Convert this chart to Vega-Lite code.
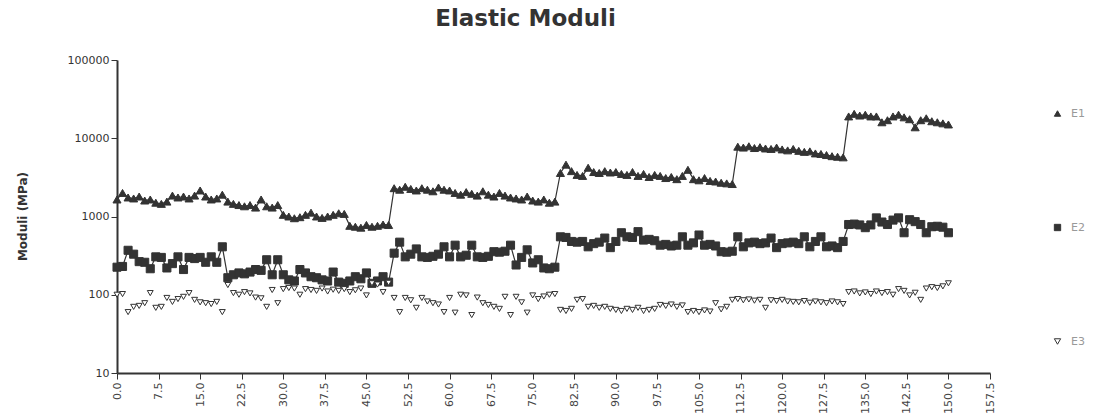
{
  "$schema": "https://vega.github.io/schema/vega-lite/v6.json",
  "width": 873,
  "height": 313,
  "autosize": {"type": "none"},
  "padding": {"left": 117, "top": 60, "right": 104, "bottom": 47},
  "background": "white",
  "title": {"text": "Elastic Moduli", "fontSize": 23, "font": "DejaVu Sans", "fontWeight": "bold", "anchor": "middle", "dx": -28, "offset": 23, "color": "#333"},
  "config": {"view": {"stroke": null}},
  "data": {"values": [
    {"x":0,"E1":1650,"E2":225,"E3":100},{"x":1,"E1":2000,"E2":230,"E3":102},{"x":2,"E1":1750,"E2":370,"E3":60},{"x":3,"E1":1700,"E2":330,"E3":70},{"x":4,"E1":1800,"E2":265,"E3":72},
    {"x":5,"E1":1600,"E2":260,"E3":78},{"x":6,"E1":1650,"E2":215,"E3":105},{"x":7,"E1":1500,"E2":305,"E3":68},{"x":8,"E1":1450,"E2":300,"E3":70},{"x":9,"E1":1550,"E2":220,"E3":91},
    {"x":10,"E1":1850,"E2":250,"E3":81},{"x":11,"E1":1750,"E2":305,"E3":88},{"x":12,"E1":1800,"E2":210,"E3":94},{"x":13,"E1":1700,"E2":300,"E3":105},{"x":14,"E1":1850,"E2":290,"E3":86},
    {"x":15,"E1":2150,"E2":300,"E3":80},{"x":16,"E1":1800,"E2":260,"E3":78},{"x":17,"E1":1650,"E2":305,"E3":76},{"x":18,"E1":1700,"E2":260,"E3":81},{"x":19,"E1":1900,"E2":410,"E3":60},
    {"x":20,"E1":1550,"E2":165,"E3":133},{"x":21,"E1":1450,"E2":180,"E3":105},{"x":22,"E1":1400,"E2":190,"E3":100},{"x":23,"E1":1350,"E2":185,"E3":108},{"x":24,"E1":1400,"E2":195,"E3":104},
    {"x":25,"E1":1300,"E2":210,"E3":92},{"x":26,"E1":1650,"E2":205,"E3":90},{"x":27,"E1":1350,"E2":280,"E3":70},{"x":28,"E1":1300,"E2":180,"E3":115},{"x":29,"E1":1400,"E2":280,"E3":78},
    {"x":30,"E1":1050,"E2":180,"E3":118},{"x":31,"E1":1000,"E2":155,"E3":122},{"x":32,"E1":950,"E2":150,"E3":120},{"x":33,"E1":980,"E2":210,"E3":100},{"x":34,"E1":1050,"E2":190,"E3":118},
    {"x":35,"E1":1120,"E2":170,"E3":115},{"x":36,"E1":1000,"E2":165,"E3":112},{"x":37,"E1":960,"E2":155,"E3":120},{"x":38,"E1":1000,"E2":150,"E3":110},{"x":39,"E1":1050,"E2":195,"E3":116},
    {"x":40,"E1":1100,"E2":145,"E3":112},{"x":41,"E1":1080,"E2":140,"E3":118},{"x":42,"E1":760,"E2":150,"E3":108},{"x":43,"E1":740,"E2":170,"E3":114},{"x":44,"E1":720,"E2":160,"E3":120},
    {"x":45,"E1":780,"E2":190,"E3":98},{"x":46,"E1":740,"E2":140,"E3":140},{"x":47,"E1":760,"E2":150,"E3":135},{"x":48,"E1":790,"E2":170,"E3":108},{"x":49,"E1":780,"E2":145,"E3":142},
    {"x":50,"E1":2300,"E2":340,"E3":91},{"x":51,"E1":2200,"E2":470,"E3":60},{"x":52,"E1":2400,"E2":305,"E3":91},{"x":53,"E1":2250,"E2":330,"E3":85},{"x":54,"E1":2150,"E2":385,"E3":68},
    {"x":55,"E1":2300,"E2":305,"E3":91},{"x":56,"E1":2200,"E2":300,"E3":82},{"x":57,"E1":2100,"E2":310,"E3":78},{"x":58,"E1":2350,"E2":330,"E3":75},{"x":59,"E1":2200,"E2":410,"E3":60},
    {"x":60,"E1":2150,"E2":305,"E3":91},{"x":61,"E1":2000,"E2":430,"E3":59},{"x":62,"E1":1900,"E2":305,"E3":100},{"x":63,"E1":2050,"E2":320,"E3":98},{"x":64,"E1":1950,"E2":430,"E3":55},
    {"x":65,"E1":1850,"E2":305,"E3":92},{"x":66,"E1":2100,"E2":300,"E3":78},{"x":67,"E1":1900,"E2":310,"E3":74},{"x":68,"E1":1800,"E2":355,"E3":70},{"x":69,"E1":2000,"E2":350,"E3":66},
    {"x":70,"E1":1850,"E2":360,"E3":94},{"x":71,"E1":1750,"E2":430,"E3":55},{"x":72,"E1":1700,"E2":240,"E3":94},{"x":73,"E1":1650,"E2":300,"E3":80},{"x":74,"E1":1800,"E2":375,"E3":59},
    {"x":75,"E1":1600,"E2":255,"E3":98},{"x":76,"E1":1550,"E2":280,"E3":88},{"x":77,"E1":1650,"E2":220,"E3":95},{"x":78,"E1":1500,"E2":215,"E3":100},{"x":79,"E1":1550,"E2":225,"E3":102},
    {"x":80,"E1":3600,"E2":550,"E3":64},{"x":81,"E1":4600,"E2":540,"E3":62},{"x":82,"E1":3800,"E2":480,"E3":66},{"x":83,"E1":3400,"E2":470,"E3":86},{"x":84,"E1":3300,"E2":480,"E3":88},
    {"x":85,"E1":4200,"E2":410,"E3":70},{"x":86,"E1":3700,"E2":450,"E3":72},{"x":87,"E1":3600,"E2":470,"E3":68},{"x":88,"E1":3800,"E2":530,"E3":70},{"x":89,"E1":3650,"E2":400,"E3":66},
    {"x":90,"E1":3700,"E2":480,"E3":64},{"x":91,"E1":3500,"E2":620,"E3":62},{"x":92,"E1":3400,"E2":550,"E3":66},{"x":93,"E1":3700,"E2":540,"E3":64},{"x":94,"E1":3300,"E2":640,"E3":68},
    {"x":95,"E1":3500,"E2":500,"E3":62},{"x":96,"E1":3200,"E2":510,"E3":64},{"x":97,"E1":3400,"E2":490,"E3":66},{"x":98,"E1":3300,"E2":430,"E3":74},{"x":99,"E1":3100,"E2":440,"E3":72},
    {"x":100,"E1":3200,"E2":420,"E3":75},{"x":101,"E1":3000,"E2":430,"E3":70},{"x":102,"E1":3300,"E2":550,"E3":73},{"x":103,"E1":3950,"E2":430,"E3":60},{"x":104,"E1":3000,"E2":460,"E3":62},
    {"x":105,"E1":2900,"E2":580,"E3":60},{"x":106,"E1":3100,"E2":430,"E3":63},{"x":107,"E1":2850,"E2":440,"E3":61},{"x":108,"E1":2800,"E2":420,"E3":78},{"x":109,"E1":2700,"E2":355,"E3":65},
    {"x":110,"E1":2650,"E2":350,"E3":70},{"x":111,"E1":2600,"E2":360,"E3":86},{"x":112,"E1":7800,"E2":550,"E3":88},{"x":113,"E1":7600,"E2":410,"E3":85},{"x":114,"E1":7900,"E2":460,"E3":87},
    {"x":115,"E1":7500,"E2":470,"E3":84},{"x":116,"E1":7700,"E2":450,"E3":86},{"x":117,"E1":7400,"E2":460,"E3":68},{"x":118,"E1":7300,"E2":530,"E3":85},{"x":119,"E1":7600,"E2":400,"E3":83},
    {"x":120,"E1":7200,"E2":450,"E3":86},{"x":121,"E1":7000,"E2":460,"E3":82},{"x":122,"E1":7300,"E2":470,"E3":81},{"x":123,"E1":6900,"E2":450,"E3":80},{"x":124,"E1":6700,"E2":550,"E3":83},
    {"x":125,"E1":6800,"E2":410,"E3":79},{"x":126,"E1":6400,"E2":480,"E3":82},{"x":127,"E1":6300,"E2":550,"E3":80},{"x":128,"E1":6100,"E2":410,"E3":78},{"x":129,"E1":5900,"E2":420,"E3":82},
    {"x":130,"E1":5800,"E2":400,"E3":80},{"x":131,"E1":5700,"E2":480,"E3":76},{"x":132,"E1":19000,"E2":790,"E3":108},{"x":133,"E1":20500,"E2":800,"E3":110},{"x":134,"E1":19500,"E2":780,"E3":104},
    {"x":135,"E1":20000,"E2":720,"E3":107},{"x":136,"E1":19000,"E2":780,"E3":102},{"x":137,"E1":19000,"E2":960,"E3":110},{"x":138,"E1":16000,"E2":850,"E3":105},{"x":139,"E1":17000,"E2":790,"E3":108},
    {"x":140,"E1":19000,"E2":900,"E3":100},{"x":141,"E1":20000,"E2":960,"E3":118},{"x":142,"E1":18500,"E2":620,"E3":112},{"x":143,"E1":17500,"E2":910,"E3":98},{"x":144,"E1":13800,"E2":860,"E3":106},
    {"x":145,"E1":17000,"E2":790,"E3":86},{"x":146,"E1":18000,"E2":620,"E3":120},{"x":147,"E1":16500,"E2":740,"E3":125},{"x":148,"E1":16000,"E2":750,"E3":122},{"x":149,"E1":15500,"E2":730,"E3":128},
    {"x":150,"E1":15000,"E2":620,"E3":140}
  ]},
  "transform": [{"fold": ["E1", "E2", "E3"], "as": ["series", "value"]}],
  "encoding": {
    "x": {"field": "x", "type": "quantitative",
      "scale": {"domain": [0, 157.5], "nice": false, "zero": false},
      "axis": {"title": null, "values": [0,7.5,15,22.5,30,37.5,45,52.5,60,67.5,75,82.5,90,97.5,105,112.5,120,127.5,135,142.5,150,157.5],
        "format": ".1f", "labelAngle": 270, "labelFont": "DejaVu Sans", "labelFontSize": 11, "labelColor": "#444",
        "domainColor": "#333", "domainWidth": 2, "tickColor": "#333", "tickSize": 6, "grid": false, "labelPadding": 3, "labelFlush": false, "labelOverlap": false}},
    "y": {"field": "value", "type": "quantitative",
      "scale": {"type": "log", "domain": [10, 100000], "nice": false},
      "axis": {"title": "Moduli (MPa)", "values": [10, 100, 1000, 10000, 100000], "format": "d",
        "labelFont": "DejaVu Sans", "labelFontSize": 11, "labelColor": "#333",
        "titleFont": "DejaVu Sans", "titleFontSize": 12, "titleFontWeight": "bold", "titleColor": "#333",
        "titleX": -88, "titleY": 156, "titleAngle": 270, "titleAnchor": "middle",
        "domainColor": "#333", "domainWidth": 2, "tickColor": "#333", "tickSize": 6, "grid": false, "labelPadding": 2}}
  },
  "layer": [
    {
      "transform": [{"filter": "datum.series != 'E3'"}],
      "mark": {"type": "line", "color": "#333", "strokeWidth": 1.2},
      "encoding": {"detail": {"field": "series", "type": "nominal"}}
    },
    {
      "transform": [{"filter": "datum.series != 'E3'"}],
      "mark": {"type": "point", "filled": true, "stroke": "#333", "strokeWidth": 1, "opacity": 1, "size": 65},
      "encoding": {
        "shape": {"field": "series", "type": "nominal",
          "scale": {"domain": ["E1", "E2", "E3"], "range": ["triangle-up", "square", "triangle-down"]},
          "legend": {"title": null, "orient": "none", "legendX": 935, "legendY": 48, "rowPadding": 102,
            "labelColor": "#999", "labelFont": "DejaVu Sans", "labelFontSize": 11, "symbolStrokeColor": "#333", "symbolStrokeWidth": 1, "symbolSize": 40, "labelOffset": 8,
            "symbolOpacity": 1}},
        "fill": {"field": "series", "type": "nominal",
          "scale": {"domain": ["E1", "E2", "E3"], "range": ["#333", "#333", "#ffffff"]},
          "legend": {"title": null, "orient": "none", "legendX": 935, "legendY": 48, "rowPadding": 102,
            "labelColor": "#999", "labelFont": "DejaVu Sans", "labelFontSize": 11, "symbolStrokeColor": "#333", "symbolStrokeWidth": 1, "symbolSize": 40, "labelOffset": 8,
            "symbolOpacity": 1,
            "encode": {"symbols": {"update": {"stroke": {"value": "#333"}, "strokeWidth": {"value": 1}}}}}}
      }
    },
    {
      "transform": [{"filter": "datum.series == 'E3'"}],
      "mark": {"type": "point", "filled": true, "stroke": "#333", "strokeWidth": 1, "opacity": 1, "size": 35},
      "encoding": {
        "shape": {"field": "series", "type": "nominal"},
        "fill": {"field": "series", "type": "nominal"}
      }
    }
  ]
}
